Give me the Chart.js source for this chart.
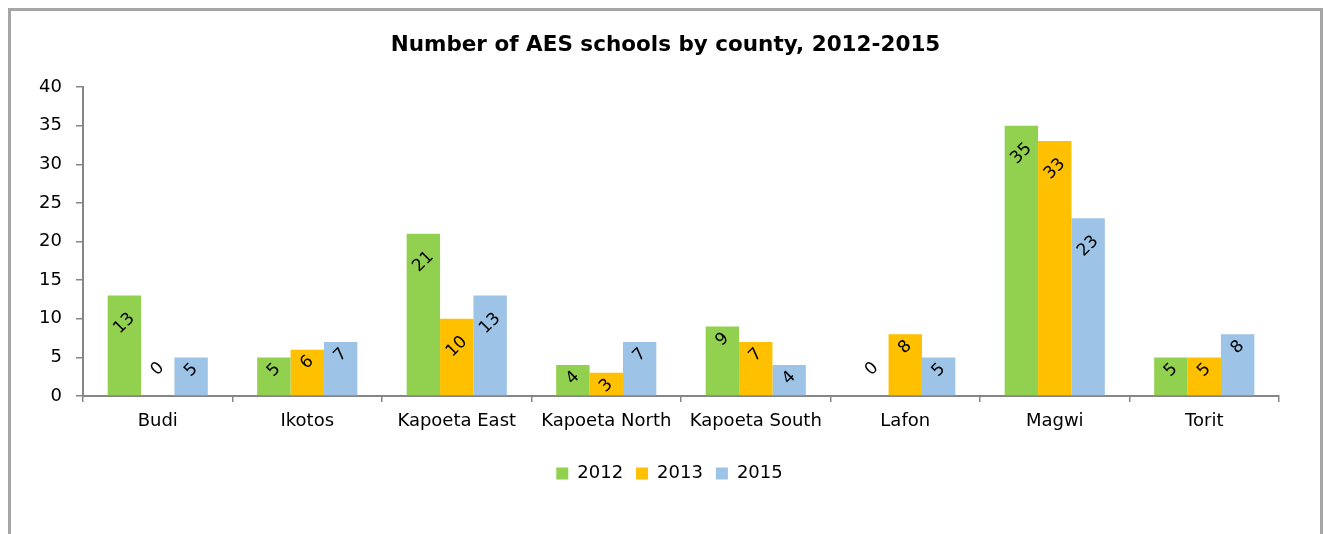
<!DOCTYPE html>
<html lang="en">
<head>
    <meta charset="UTF-8">
    <title>Number of AES schools by county</title>
    <script src="https://cdn.jsdelivr.net/npm/chart.js"></script>
    <style>
        body { margin: 0; background: #fff; }
        #wrap { width: 1327px; height: 534px; }
    </style>
</head>
<body>
    <div id="wrap"><canvas id="aesChart" width="1327" height="534"></canvas></div>

    <script>
        // data
        const counties = ['Budi', 'Ikotos', 'Kapoeta East', 'Kapoeta North', 'Kapoeta South', 'Lafon', 'Magwi', 'Torit'];
        const years = ['2012', '2013', '2015'];
        const schools2012 = [13, 5, 21, 4, 9, 0, 35, 5];
        const schools2013 = [0, 6, 10, 3, 7, 8, 33, 5];
        const schools2015 = [5, 7, 13, 7, 4, 5, 23, 8];
        const yTicks = [0, 5, 10, 15, 20, 25, 30, 35, 40];

        const axisGrey = '#868686';
        const font = 'DejaVu Sans';

        // grey frame around the chart (bottom edge is off the picture)
        const framePlugin = {
            id: 'frame',
            beforeDraw(chart) {
                const c = chart.ctx;
                c.save();
                c.strokeStyle = '#a6a6a6';
                c.lineWidth = 3;
                c.beginPath();
                c.moveTo(9.5, 540);
                c.lineTo(9.5, 9.5);
                c.lineTo(1321.5, 9.5);
                c.lineTo(1321.5, 540);
                c.stroke();
                c.restore();
            },
            // title and legend sit a bit right of the plot centre in the original
            afterLayout(chart) {
                chart.legend.left += 30;
                chart.legend.right += 30;
                chart.titleBlock.left += 26;
                chart.titleBlock.right += 26;
            }
        };

        // rotated value labels near the top of each bar
        const labelPlugin = {
            id: 'barLabels',
            afterDatasetsDraw(chart) {
                const c = chart.ctx;
                c.save();
                c.font = '17px "' + font + '"';
                c.fillStyle = '#000';
                c.textAlign = 'center';
                c.textBaseline = 'middle';
                chart.data.datasets.forEach((ds, i) => {
                    chart.getDatasetMeta(i).data.forEach((bar, j) => {
                        const v = ds.data[j];
                        const txt = String(v);
                        let y;
                        if (v === 0) y = bar.base - 27;
                        else y = bar.y + (txt.length > 1 ? 28 : 13);
                        c.save();
                        c.translate(bar.x, y);
                        c.rotate(-Math.PI / 4);
                        c.fillText(txt, 0, 0);
                        c.restore();
                    });
                });
                c.restore();
            }
        };

        const ctx = document.getElementById('aesChart').getContext('2d');
        new Chart(ctx, {
            type: 'bar',
            data: {
                labels: counties,
                datasets: [
                    { label: years[0], data: schools2012, backgroundColor: '#92D050' },
                    { label: years[1], data: schools2013, backgroundColor: '#FFC000' },
                    { label: years[2], data: schools2015, backgroundColor: '#9DC3E6' }
                ]
            },
            options: {
                responsive: false,
                animation: false,
                datasets: { bar: { categoryPercentage: 0.67, barPercentage: 1.0, borderWidth: 0 } },
                layout: { padding: { left: 0, right: 48, top: 0, bottom: 41.5 } },
                plugins: {
                    title: {
                        display: true,
                        text: 'Number of AES schools by county, 2012-2015',
                        color: '#000',
                        font: { family: font, size: 21.5, weight: 'bold' },
                        padding: { top: 33, bottom: 28.2 }
                    },
                    legend: {
                        position: 'bottom',
                        labels: {
                            color: '#000',
                            font: { family: font, size: 18 },
                            boxWidth: 12,
                            boxHeight: 12,
                            padding: 13
                        }
                    },
                    tooltip: { enabled: false }
                },
                scales: {
                    x: {
                        offset: true,
                        grid: { offset: true, drawOnChartArea: false, drawTicks: true, tickLength: 6, color: axisGrey, lineWidth: 1.5 },
                        border: { display: true, color: axisGrey, width: 2 },
                        ticks: { color: '#000', font: { family: font, size: 18 }, padding: 9, maxRotation: 0, autoSkip: false },
                        afterFit(scale) { scale.height = 55.5; }
                    },
                    y: {
                        min: yTicks[0],
                        max: yTicks[yTicks.length - 1],
                        afterBuildTicks(scale) { scale.ticks = yTicks.map(v => ({ value: v })); },
                        grid: { drawOnChartArea: false, drawTicks: true, tickLength: 7, color: axisGrey, lineWidth: 1.5 },
                        border: { display: true, color: axisGrey, width: 2 },
                        ticks: { color: '#000', font: { family: font, size: 18 }, padding: 14 },
                        afterFit(scale) { scale.width = 83; }
                    }
                }
            },
            plugins: [framePlugin, labelPlugin]
        });
    </script>
</body>
</html>
